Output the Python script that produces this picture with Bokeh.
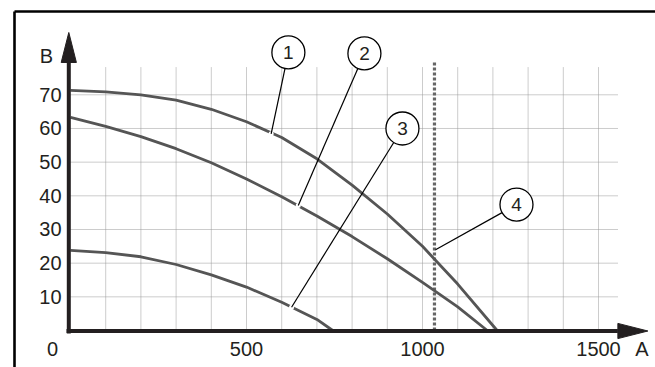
import math
from bokeh.plotting import figure
from bokeh.models import Range1d
from bokeh.core.properties import value
from bokeh.embed import file_html
from bokeh.resources import INLINE

# ---------------- data ----------------
curve1_x = [0, 100, 200, 300, 400, 500, 600, 700, 800, 900, 1000, 1100, 1212]
curve1_y = [71.3, 70.9, 70.0, 68.4, 65.7, 62.0, 57.3, 51.0, 43.2, 34.6, 25.0, 13.8, 0]
curve2_x = [0, 100, 200, 300, 400, 500, 600, 700, 800, 900, 1000, 1100, 1184]
curve2_y = [63.3, 60.6, 57.6, 54.0, 49.8, 45.0, 39.7, 34.0, 27.9, 21.3, 14.3, 7.0, 0]
curve3_x = [0, 100, 200, 300, 400, 500, 600, 700, 745]
curve3_y = [23.8, 23.1, 21.9, 19.6, 16.5, 12.9, 8.4, 3.3, 0]
limit_x = 1034          # (4) vertical dotted line
limit_top = 79.6

x_ticks = [0, 500, 1000, 1500]
x_tick_labels = ["0", "500", "1000", "1500"]
y_ticks = [10, 20, 30, 40, 50, 60, 70]
y_tick_labels = ["10", "20", "30", "40", "50", "60", "70"]
x_grid = [100, 200, 300, 400, 500, 600, 700, 800, 900, 1000, 1100, 1200, 1300, 1400, 1500]
y_grid = [10, 20, 30, 40, 50, 60, 70]
grid_x_max = 1555
grid_y_max = 78.1
x_label = "A"
y_label = "B"

callout_text = ["1", "2", "3", "4"]
callout_x = [619, 835, 943, 1267]
callout_y = [82.6, 82.3, 60.0, 37.4]
target_x = [570, 647, 628, 1037]
target_y = [58.4, 37.1, 6.9, 24.0]

# ---------------- layout (pixels) ----------------
W, H = 655, 367
PX_X = 0.352      # px per x unit
PX_Y = 3.367      # px per y unit
X0_PAGE, Y0_PAGE = 70, 330   # position of the origin in the picture
x_start = (0 - X0_PAGE) / PX_X
x_end = (W - X0_PAGE) / PX_X
y_end = (Y0_PAGE - 0) / PX_Y
y_start = (Y0_PAGE - H) / PX_Y

p = figure(width=W, height=H, output_backend="svg", toolbar_location=None,
           x_range=Range1d(x_start, x_end), y_range=Range1d(y_start, y_end),
           min_border=0, min_border_left=0, min_border_right=0,
           min_border_top=0, min_border_bottom=0)
p.axis.visible = False
p.grid.visible = False
p.outline_line_color = None
p.background_fill_color = "white"
p.border_fill_color = "white"

INK = "#231f20"
FONT = value("Liberation Sans")

# outer frame (top and left edges only visible)
fx = (14 - X0_PAGE) / PX_X
fy = (Y0_PAGE - 11) / PX_Y
p.segment(x0=[fx, fx], y0=[fy, fy], x1=[x_end + 50, fx], y1=[fy, y_start - 5],
          line_color="black", line_width=2.6)

# grid
p.segment(x0=x_grid, y0=[0] * len(x_grid), x1=x_grid, y1=[grid_y_max] * len(x_grid),
          line_color="#999999", line_width=1, line_dash="1 1")
p.segment(x0=[0] * len(y_grid), y0=y_grid, x1=[grid_x_max] * len(y_grid), y1=y_grid,
          line_color="#999999", line_width=1, line_dash="1 1")

# dotted limit line (4)
p.segment(x0=[limit_x], y0=[0], x1=[limit_x], y1=[limit_top],
          line_color="#666666", line_width=3.2, line_dash="3 2")

# curves
for cx, cy in ((curve1_x, curve1_y), (curve2_x, curve2_y), (curve3_x, curve3_y)):
    p.line(cx, cy, line_color="#555555", line_width=2.8, line_join="round")

# axes
ax_off_x = -1.7 / PX_X
ax_off_y = -0.5 / PX_Y
p.segment(x0=[ax_off_x], y0=[-3 / PX_Y], x1=[ax_off_x], y1=[limit_top],
          line_color=INK, line_width=4)
p.segment(x0=[-4 / PX_X], y0=[ax_off_y], x1=[grid_x_max], y1=[ax_off_y],
          line_color=INK, line_width=4)
# arrow heads
hw = 7.6
p.patch([ax_off_x - hw / PX_X, ax_off_x + hw / PX_X, ax_off_x],
        [limit_top, limit_top, limit_top + 30 / PX_Y], color=INK)
p.patch([grid_x_max, grid_x_max, grid_x_max + 30 / PX_X],
        [ax_off_y - hw / PX_Y, ax_off_y + hw / PX_Y, ax_off_y], color=INK)

# tick labels
p.text(x=[0] * len(y_ticks), y=y_ticks, text=y_tick_labels, x_offset=-9,
       text_align="right", text_baseline="middle", text_font=FONT,
       text_font_size="20px", text_color=INK)
x_offsets = [-18 if t == 0 else 0 for t in x_ticks]
p.text(x=x_ticks, y=[0] * len(x_ticks), text=x_tick_labels, x_offset=x_offsets,
       y_offset=18, text_align="center", text_baseline="middle", text_font=FONT,
       text_font_size="20px", text_color=INK)
# axis names
p.text(x=[0], y=[grid_y_max], text=[y_label], x_offset=-24, y_offset=-12,
       text_align="center", text_baseline="middle", text_font=FONT,
       text_font_size="20px", text_color=INK)
p.text(x=[grid_x_max], y=[0], text=[x_label], x_offset=24, y_offset=18,
       text_align="center", text_baseline="middle", text_font=FONT,
       text_font_size="20px", text_color=INK)

# callouts: leader lines from circle edge to the curve
R = 16.5
lx0, ly0 = [], []
for cx, cy, tx, ty in zip(callout_x, callout_y, target_x, target_y):
    dx = (tx - cx) * PX_X
    dy = (ty - cy) * PX_Y
    d = math.hypot(dx, dy)
    lx0.append(cx + dx / d * R / PX_X)
    ly0.append(cy + dy / d * R / PX_Y)
p.scatter(x=target_x[:3], y=target_y[:3], marker="circle", size=5,
          fill_color="white", line_color=None)
p.segment(x0=lx0, y0=ly0, x1=target_x, y1=target_y, line_color="black", line_width=1.2)
p.scatter(x=callout_x, y=callout_y, marker="circle", size=2 * R,
          fill_color="white", line_color="black", line_width=1.3)
p.text(x=callout_x, y=callout_y, text=callout_text, text_align="center",
       text_baseline="middle", text_font=FONT, text_font_size="19px", text_color=INK)

open("out.html", "w").write(file_html(p, INLINE))
